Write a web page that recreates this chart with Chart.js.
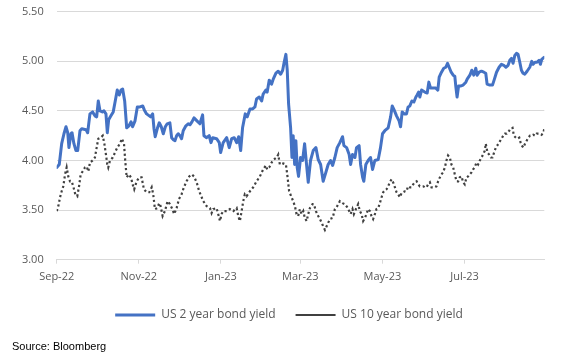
<!DOCTYPE html>
<html>
<head>
<meta charset="utf-8">
<script src="https://cdn.jsdelivr.net/npm/chart.js@4.4.0/dist/chart.umd.min.js"></script>
<style>
  html, body { margin: 0; padding: 0; background: #ffffff; }
  #wrap { position: relative; width: 567px; height: 357px; }
  #source { position: absolute; left: 12px; top: 339.5px; font-family: "Liberation Sans", Arial, sans-serif; font-size: 11px; line-height: 13px; color: #000; }
</style>
</head>
<body>
<div id="wrap">
  <canvas id="c" width="567" height="357"></canvas>
  <div id="source">Source: Bloomberg</div>
</div>
<script>
const tickLabels = ['Sep-22', 'Nov-22', 'Jan-23', 'Mar-23', 'May-23', 'Jul-23'];
const tickDays = [0, 61, 122, 181, 242, 303];
const seriesNames = ['US 2 year bond yield', 'US 10 year bond yield'];

const days2y = [0,1.9,3.7,5.4,6.9,8.2,9.1,10.6,11.4,12.8,
14.3,15.6,17.3,18.6,21.8,23.0,24.7,26.7,28.4,29.7,
30.9,32.2,33.9,35.1,36.6,37.6,38.6,40.3,42.0,43.5,
45.0,46.5,47.8,49.0,50.5,52.0,53.7,55.2,56.4,58.2,
59.9,61.9,63.9,65.1,66.8,68.8,69.8,71.3,72.3,73.2,
74.7,76.2,77.7,79.2,80.7,82.1,84.1,85.4,86.6,87.9,
89.1,90.3,91.6,92.8,94.0,96.0,97.7,99.0,100.5,102.0,
104.2,106.4,108.4,109.4,111.4,113.3,114.6,115.9,118.8,120.8,
121.8,123.7,126.3,128.2,130.0,131.9,133.7,135.2,136.7,138.1,
140.1,141.6,143.6,145.6,147.3,148.5,150.5,152.3,153.4,155.4,
156.4,157.9,159.7,160.9,162.9,164.6,166.4,167.9,169.0,170.3,
171.3,172.3,173.8,174.8,175.7,176.8,177.7,178.7,179.7,181.2,
182.7,184.2,185.7,186.9,188.6,190.6,192.6,194.3,196.1,198.0,
200.0,201.7,203.5,205.0,206.7,208.4,210.4,212.4,213.4,215.4,
217.3,218.4,219.8,221.6,222.8,224.7,225.8,227.3,228.2,229.7,
231.4,233.2,234.7,236.4,238.9,240.6,242.1,243.8,246.3,248.1,
249.3,250.7,252.5,254.4,255.5,256.7,258.2,259.9,261.1,262.4,
263.9,265.4,266.9,267.8,268.9,269.8,271.1,273.5,275.3,276.5,
277.8,279.7,281.7,283.2,284.2,285.9,287.6,289.1,290.4,291.6,
293.1,294.6,295.8,296.6,297.5,298.6,300.0,302.0,304.0,305.0,
307.0,308.4,309.9,311.4,312.4,313.9,315.6,317.4,318.8,319.8,
321.8,323.8,325.0,326.8,328.7,330.5,332.2,333.7,335.4,336.7,
337.9,339.1,340.4,341.6,342.8,344.1,345.3,346.5,347.8,349.5,
351.5,353.0,354.0,355.4,356.9,358.4,359.4,360.4,362.1];

const yield2y = [3.93,3.96,4.17,4.27,4.34,4.28,4.13,4.27,4.28,4.17,
4.10,4.10,4.30,4.32,4.31,4.28,4.47,4.49,4.45,4.44,
4.60,4.50,4.49,4.50,4.47,4.28,4.41,4.45,4.49,4.60,
4.71,4.66,4.71,4.72,4.60,4.33,4.35,4.39,4.34,4.40,
4.54,4.54,4.55,4.51,4.47,4.45,4.44,4.47,4.32,4.24,
4.32,4.38,4.34,4.27,4.34,4.37,4.38,4.23,4.21,4.20,
4.25,4.27,4.25,4.22,4.30,4.35,4.37,4.36,4.39,4.43,
4.40,4.37,4.46,4.25,4.23,4.25,4.18,4.23,4.22,4.18,
4.08,4.18,4.23,4.13,4.22,4.23,4.18,4.24,4.10,4.33,
4.47,4.44,4.52,4.52,4.54,4.62,4.64,4.60,4.67,4.71,
4.69,4.81,4.77,4.82,4.88,4.90,4.87,4.91,4.99,5.07,
4.91,4.57,4.33,4.03,4.25,3.96,4.20,3.93,3.84,4.03,
4.00,4.17,3.95,3.78,4.00,4.10,4.13,4.01,3.96,3.79,
3.88,3.96,4.00,3.95,4.03,4.13,4.18,4.24,4.15,4.13,
4.06,3.96,4.06,4.03,4.13,4.15,3.96,3.83,3.79,3.96,
4.00,4.03,3.91,4.00,4.01,4.13,4.27,4.30,4.33,4.44,
4.55,4.51,4.45,4.40,4.34,4.49,4.47,4.47,4.54,4.55,
4.60,4.59,4.64,4.66,4.69,4.64,4.71,4.69,4.68,4.79,
4.73,4.73,4.73,4.71,4.84,4.89,4.93,4.94,4.98,4.94,
4.89,4.86,4.85,4.74,4.64,4.75,4.75,4.76,4.79,4.82,
4.86,4.91,4.86,4.93,4.86,4.89,4.90,4.89,4.88,4.77,
4.76,4.76,4.81,4.89,4.94,4.97,4.96,4.94,4.96,5.01,
5.03,4.98,5.06,5.08,5.07,4.99,4.91,4.88,4.87,4.90,
4.94,5.00,4.97,4.99,4.99,5.01,4.97,5.02,5.04];

const days10y = [0,1.2,2.5,3.7,4.9,6.2,7.4,8.6,9.9,11.1,
12.3,13.8,15.3,16.6,17.8,19.3,21.0,22.3,23.5,24.7,
26.7,28.4,29.7,30.9,32.7,34.2,35.4,36.6,37.6,38.3,
39.6,41.6,43.3,45.0,47.0,48.5,50.0,50.9,52.0,53.5,
55.2,56.4,57.6,59.4,61.3,63.1,64.8,66.8,68.8,70.6,
71.7,73.0,74.7,76.2,77.2,78.7,80.4,82.4,84.1,85.9,
87.3,89.1,90.8,92.8,94.5,96.5,98.5,100.3,102.0,104.0,
105.9,108.9,111.4,113.9,115.1,116.3,118.8,120.0,121.3,122.5,
123.7,126.3,128.7,131.2,133.7,134.9,136.1,137.4,138.6,139.8,
141.1,143.6,146.0,148.5,151.0,153.4,155.4,156.4,157.9,159.7,
161.4,163.4,164.6,165.8,168.3,170.3,171.3,172.7,174.5,175.7,
177.0,178.2,179.4,180.7,182.0,183.2,184.4,185.7,186.9,188.1,
190.1,191.1,192.6,194.3,195.6,197.6,199.3,201.0,203.0,205.0,
206.7,208.4,210.4,212.4,214.1,215.8,217.3,218.4,219.8,220.8,
222.3,224.0,225.3,226.5,227.7,229.0,230.2,231.4,232.7,233.9,
235.1,236.4,237.6,238.9,240.1,241.4,242.6,243.8,245.1,246.3,
247.5,248.8,250.0,251.3,252.5,253.7,255.0,256.2,257.4,258.7,
259.9,261.1,262.4,263.6,264.9,266.1,267.4,268.6,269.8,271.1,
272.3,273.5,274.8,276.0,277.3,278.5,279.7,281.0,282.2,283.4,
284.7,285.9,287.1,288.4,289.6,290.8,292.1,293.3,294.6,295.8,
297.1,298.3,299.5,300.8,302.0,303.2,304.5,305.7,306.9,308.2,
309.4,310.6,311.9,313.1,314.4,315.6,316.8,318.1,318.8,320.1,
321.3,322.6,323.8,325.0,326.3,327.3,328.7,330.5,331.8,333.0,
334.3,336.2,337.2,338.7,339.7,341.2,342.2,343.7,344.7,345.7,
346.7,348.0,349.2,350.4,351.7,352.9,354.1,355.4,356.6,357.9,
359.1,360.3,361.6,362.3];

const yield10y = [3.49,3.54,3.63,3.69,3.74,3.86,3.93,3.84,3.79,3.79,
3.74,3.66,3.64,3.74,3.86,3.89,3.93,3.94,3.89,3.98,
4.00,4.03,4.13,4.22,4.23,4.25,4.17,4.06,3.96,3.93,
4.00,4.03,4.08,4.13,4.17,4.22,4.17,4.00,3.83,3.86,
3.83,3.76,3.71,3.79,3.83,3.83,3.71,3.68,3.68,3.73,
3.66,3.51,3.52,3.57,3.54,3.44,3.49,3.59,3.56,3.51,
3.46,3.52,3.61,3.66,3.73,3.79,3.84,3.86,3.84,3.78,
3.69,3.59,3.54,3.52,3.47,3.51,3.52,3.46,3.39,3.46,
3.49,3.49,3.51,3.49,3.52,3.44,3.39,3.49,3.59,3.66,
3.64,3.69,3.73,3.79,3.84,3.91,3.95,3.91,3.93,3.98,
4.01,4.03,4.06,3.96,3.97,3.96,3.86,3.69,3.63,3.59,
3.54,3.46,3.44,3.51,3.46,3.49,3.42,3.39,3.46,3.52,
3.56,3.56,3.49,3.44,3.41,3.35,3.30,3.35,3.41,3.42,
3.51,3.54,3.59,3.57,3.56,3.53,3.49,3.46,3.51,3.46,
3.51,3.56,3.49,3.46,3.39,3.42,3.46,3.51,3.49,3.44,
3.41,3.46,3.51,3.52,3.57,3.63,3.68,3.70,3.71,3.74,
3.78,3.81,3.78,3.73,3.68,3.66,3.63,3.67,3.68,3.69,
3.69,3.74,3.73,3.73,3.76,3.78,3.79,3.76,3.74,3.74,
3.74,3.73,3.73,3.76,3.78,3.73,3.73,3.73,3.74,3.79,
3.83,3.86,3.88,3.93,4.00,4.05,4.03,3.96,3.93,3.86,
3.79,3.79,3.83,3.84,3.78,3.76,3.83,3.84,3.86,3.88,
3.91,3.93,3.98,3.96,4.00,4.03,4.06,4.10,4.17,4.08,
4.06,4.03,4.03,4.08,4.13,4.15,4.18,4.22,4.25,4.27,
4.27,4.30,4.32,4.33,4.25,4.23,4.22,4.23,4.18,4.15,
4.13,4.17,4.20,4.23,4.25,4.25,4.26,4.25,4.27,4.27,
4.27,4.26,4.28,4.32];

function toPoints(xs, ys) {
  const n = Math.min(xs.length, ys.length);
  const out = [];
  for (let i = 0; i < n; i++) out.push({ x: xs[i], y: ys[i] });
  return out;
}

const FONT = '"Open Sans", "Noto Sans", sans-serif';
const GRID = '#d9d9d9';
const TXT = '#595959';

const legendShift = {
  id: 'legendShift',
  beforeDraw(chart) {
    const l = chart.legend;
    if (!l) return;
    const w = l.right - l.left;
    const cx = 289;
    l.left = cx - w / 2;
    l.right = l.left + w;
  }
};

new Chart(document.getElementById('c'), {
  type: 'line',
  data: {
    datasets: [
      {
        label: seriesNames[0],
        data: toPoints(days2y, yield2y),
        borderColor: '#4472c4',
        backgroundColor: '#4472c4',
        borderWidth: 3,
        pointRadius: 0,
        pointStyle: 'line',
        tension: 0,
        borderJoinStyle: 'round',
        borderCapStyle: 'round'
      },
      {
        label: seriesNames[1],
        data: toPoints(days10y, yield10y),
        borderColor: '#404040',
        backgroundColor: '#404040',
        borderWidth: 2.2,
        borderDash: [2.2, 2.6],
        pointRadius: 0,
        pointStyle: 'line',
        tension: 0
      }
    ]
  },
  options: {
    responsive: false,
    animation: false,
    events: [],
    layout: { padding: { left: 0, right: 22.7, top: 11.7, bottom: 26 } },
    plugins: {
      legend: {
        position: 'bottom',
        labels: {
          usePointStyle: true,
          pointStyleWidth: 40,
          padding: 20,
          color: TXT,
          font: { family: FONT, size: 12 }
        }
      },
      tooltip: { enabled: false }
    },
    scales: {
      x: {
        type: 'linear',
        min: 0,
        max: 362.3,
        afterBuildTicks(scale) {
          scale.ticks = tickDays.map(v => ({ value: v }));
        },
        afterFit(scale) {
          scale.height = 29.3;
          scale.paddingLeft = 0; scale.paddingRight = 0;
          scale.paddingTop = 0; scale.paddingBottom = 0;
        },
        ticks: {
          autoSkip: false,
          maxRotation: 0,
          padding: 6.5,
          color: TXT,
          font: { family: FONT, size: 11 },
          callback(value) {
            const i = tickDays.indexOf(value);
            return i >= 0 ? tickLabels[i] : '';
          }
        },
        grid: { drawOnChartArea: false, drawTicks: true, tickLength: 4, color: GRID },
        border: { display: true, color: GRID, width: 1 }
      },
      y: {
        min: 3,
        max: 5.5,
        afterFit(scale) {
          scale.width = 56.7;
          scale.paddingTop = 0; scale.paddingBottom = 0;
          scale.paddingLeft = 0; scale.paddingRight = 0;
        },
        ticks: {
          stepSize: 0.5,
          padding: 13,
          color: TXT,
          font: { family: FONT, size: 11 },
          callback(value) { return Number(value).toFixed(2); }
        },
        grid: { color: GRID, drawTicks: false, lineWidth: 1 },
        border: { display: false }
      }
    }
  },
  plugins: [legendShift]
});
</script>
</body>
</html>
